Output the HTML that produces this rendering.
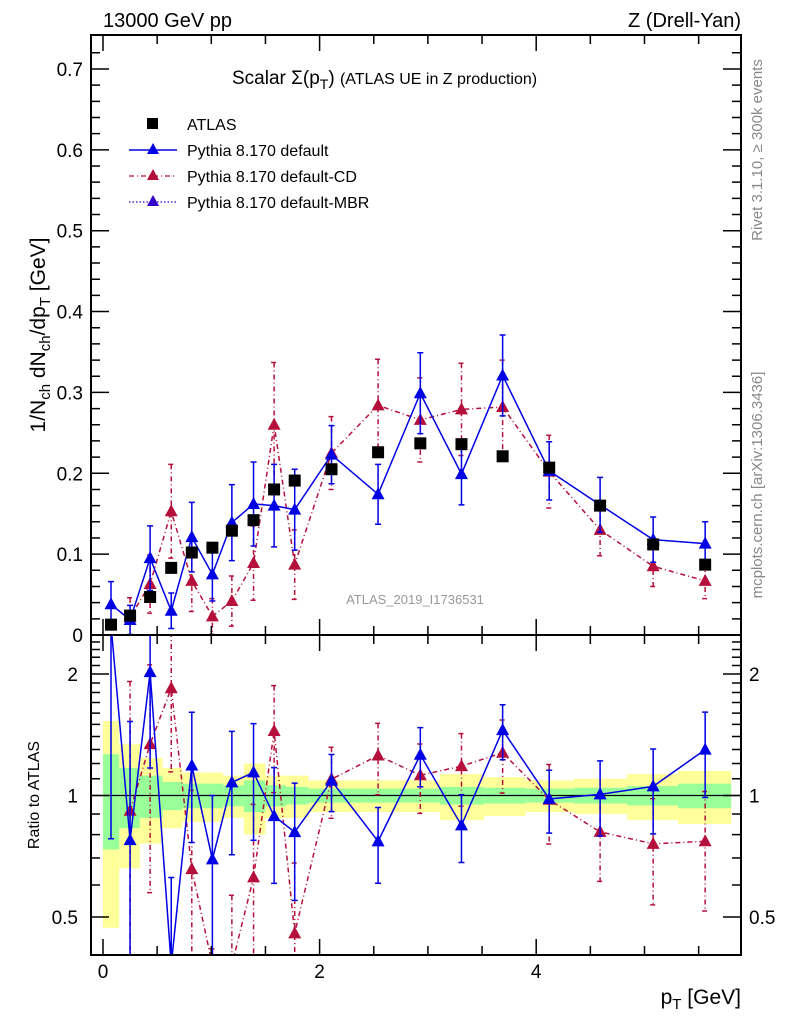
<!DOCTYPE html>
<html><head><meta charset="utf-8">
<style>
html,body{margin:0;padding:0;background:#fff;overflow:hidden;width:786px;height:1024px;}
svg{display:block;font-family:"Liberation Sans",sans-serif;overflow:hidden;}
</style></head>
<body>
<svg id="chart" width="786" height="1024" viewBox="0 0 786 1024" xmlns="http://www.w3.org/2000/svg">
  <text x="103" y="27" font-size="20">13000 GeV pp</text>
  <text x="741" y="27" font-size="20" text-anchor="end">Z (Drell-Yan)</text>
  <text transform="translate(762,150) rotate(-90)" font-size="15" fill="#888" text-anchor="middle">Rivet 3.1.10, ≥ 300k events</text>
  <text transform="translate(762,485) rotate(-90)" font-size="15" fill="#888" text-anchor="middle">mcplots.cern.ch [arXiv:1306.3436]</text>
  <text transform="translate(45,335) rotate(-90)" font-size="21" text-anchor="middle">1/N<tspan font-size="15" dy="5">ch</tspan><tspan dy="-5"> dN</tspan><tspan font-size="15" dy="5">ch</tspan><tspan dy="-5">/dp</tspan><tspan font-size="15" dy="5">T</tspan><tspan dy="-5"> [GeV]</tspan></text>
  <text transform="translate(39,795) rotate(-90)" font-size="16" text-anchor="middle">Ratio to ATLAS</text>
  <text x="741" y="1004" font-size="21" text-anchor="end">p<tspan font-size="15" dy="5">T</tspan><tspan dy="-5"> [GeV]</tspan></text>
  <text x="232" y="84" font-size="19">Scalar Σ(p<tspan font-size="14" dy="5">T</tspan><tspan dy="-5">) </tspan><tspan font-size="16">(ATLAS UE in Z production)</tspan></text>
  <text x="415" y="604" font-size="13" fill="#999" text-anchor="middle">ATLAS_2019_I1736531</text>
  <g id="bands"></g>
  <g id="marks"></g>
  <g id="axes"></g>
  <g id="legend">
    <rect x="147" y="118" width="11" height="11" fill="#000"/>
    <text x="187" y="130" font-size="16">ATLAS</text>
    <line x1="129" y1="150" x2="177" y2="150" stroke="#0000e6" stroke-width="1.5"/>
    <path d="M153,143 L159,154 L147,154 Z" fill="#0000e6"/>
    <text x="187" y="156" font-size="16">Pythia 8.170 default</text>
    <line x1="129" y1="176" x2="177" y2="176" stroke="#b5103c" stroke-width="1.3" stroke-dasharray="5,3,1,3"/>
    <path d="M153,169 L159,180 L147,180 Z" fill="#b5103c"/>
    <text x="187" y="182" font-size="16">Pythia 8.170 default-CD</text>
    <line x1="129" y1="202" x2="177" y2="202" stroke="#3300cc" stroke-width="1.3" stroke-dasharray="1.5,2"/>
    <path d="M153,195 L159,206 L147,206 Z" fill="#3300cc"/>
    <text x="187" y="208" font-size="16">Pythia 8.170 default-MBR</text>
  </g>
</svg>
<script>
const xVals = [0.074,0.25,0.435,0.63,0.82,1.01,1.19,1.39,1.58,1.77,2.11,2.54,2.93,3.31,3.69,4.12,4.59,5.08,5.56];
const binEdges = [0,0.15,0.34,0.55,0.73,0.92,1.11,1.3,1.5,1.69,1.9,2.33,2.72,3.11,3.52,3.9,4.35,4.84,5.31,5.8];
const atlasVals = [0.0128,0.024,0.047,0.083,0.102,0.108,0.129,0.142,0.180,0.191,0.205,0.226,0.237,0.236,0.221,0.207,0.160,0.112,0.087];
const atlasTotErr = [0.53,0.34,0.24,0.17,0.14,0.14,0.12,0.20,0.12,0.12,0.09,0.09,0.09,0.13,0.11,0.09,0.10,0.13,0.15];
const atlasStatErr = [0.265,0.17,0.12,0.08,0.07,0.07,0.06,0.09,0.06,0.05,0.04,0.04,0.04,0.05,0.045,0.04,0.045,0.055,0.07];
const defVals = [0.038,0.0186,0.095,0.030,0.121,0.075,0.139,0.162,0.160,0.155,0.223,0.174,0.299,0.199,0.321,0.203,0.161,0.118,0.113];
const defErr = [0.028,0.018,0.040,0.022,0.043,0.033,0.047,0.052,0.051,0.050,0.036,0.037,0.050,0.038,0.050,0.036,0.034,0.028,0.027];
const cdVals = [null,0.022,0.063,0.153,0.067,0.023,0.042,0.089,0.260,0.087,0.225,0.284,0.266,0.279,0.282,0.202,0.130,0.085,0.067];
const cdErr = [null,0.024,0.036,0.058,0.038,0.022,0.031,0.046,0.077,0.043,0.045,0.057,0.052,0.057,0.058,0.045,0.032,0.025,0.022];
const mainTicks = [0,0.1,0.2,0.3,0.4,0.5,0.6,0.7];
const mainTickLabels = ["0","0.1","0.2","0.3","0.4","0.5","0.6","0.7"];
const ratioTicks = [0.5,1,2];
const ratioTickLabels = ["0.5","1","2"];
const xTicks = [0,2,4];
const xTickLabels = ["0","2","4"];

const NS="http://www.w3.org/2000/svg";
const L=91,R=741,MT=35,MB=635,RT=635,RB=955;
const clamp=(v,a,b)=>Math.max(a,Math.min(b,v));
const X=v=>103+v*108.3;
const Y=v=>clamp(635-v*808.6,MT-10,MB+10);
const YR=r=>clamp(795.5-121.5*Math.log2(r),RT-10,RB+10);
const BLUE="#0000e6",RED="#b5103c";
function mk(tag,parent,attrs){const e=document.createElementNS(NS,tag);for(const k in attrs)e.setAttribute(k,attrs[k]);parent.appendChild(e);return e;}
const bands=document.getElementById('bands'),marks=document.getElementById('marks'),axes=document.getElementById('axes');
const svg=document.getElementById('chart');
const defs=mk('defs',svg,{});
const c1=mk('clipPath',defs,{id:'cm'});mk('rect',c1,{x:L,y:MT,width:R-L,height:MB-MT});
const c2=mk('clipPath',defs,{id:'cr'});mk('rect',c2,{x:L,y:RT,width:R-L,height:RB-RT});
const gMain=mk('g',marks,{'clip-path':'url(#cm)'});


const gRat=mk('g',bands,{'clip-path':'url(#cr)'});



for(let i=0;i<xVals.length;i++){
  const x0=X(binEdges[i]),x1=X(binEdges[i+1]);
  const y=mk('rect',gRat,{x:x0,y:YR(1+atlasTotErr[i]),width:x1-x0,height:YR(1-atlasTotErr[i])-YR(1+atlasTotErr[i]),fill:'#ffff99'});
  
  
}
for(let i=0;i<xVals.length;i++){
  const x0=X(binEdges[i]),x1=X(binEdges[i+1]);
  const g=mk('rect',gRat,{x:x0,y:YR(1+atlasStatErr[i]),width:x1-x0,height:YR(1-atlasStatErr[i])-YR(1+atlasStatErr[i]),fill:'#99ff99'});
  
  
}
const one=mk('line',gRat,{x1:L,x2:R,y1:YR(1),y2:YR(1),stroke:'#000','stroke-width':1.3});



function tri(g,x,y,col){return mk('path',g,{d:`M${x},${y-7} L${x+6.5},${y+5} L${x-6.5},${y+5} Z`,fill:col});}
function series(g,vals,errs,col,dash,yf,name){
  let pts=[];
  for(let i=0;i<vals.length;i++){ if(vals[i]==null)continue; pts.push([X(xVals[i]),yf(vals[i],i)]); }
  const pl=mk('polyline',g,{points:pts.map(p=>p.join(',')).join(' '),fill:'none',stroke:col,'stroke-width':1.5});
  if(dash)pl.setAttribute('stroke-dasharray',dash);
  
  
  for(let i=0;i<vals.length;i++){
    if(vals[i]==null)continue;
    const x=X(xVals[i]);
    const lo=Math.max(vals[i]-errs[i],1e-4),hi=vals[i]+errs[i];
    const y1=yf(hi,i),y2=yf(lo,i);
    const eb=mk('path',g,{d:`M${x},${y1} L${x},${y2} M${x-3},${y1} L${x+3},${y1} M${x-3},${y2} L${x+3},${y2}`,stroke:col,'stroke-width':1.5,fill:'none'});
    if(dash)eb.setAttribute('stroke-dasharray',dash);
    
    
    const t=tri(g,x,yf(vals[i],i),col);
    
    
  }
}
const ym=(v)=>Y(v);
const yr=(v,i)=>YR(v/atlasVals[i]);
series(gMain,cdVals,cdErr,RED,'5,3,1,3',ym,'cd');
series(gMain,defVals,defErr,BLUE,null,ym,'default');
for(let i=0;i<atlasVals.length;i++){
  const s=mk('rect',gMain,{x:X(xVals[i])-6,y:Y(atlasVals[i])-6,width:12,height:12,fill:'#000'});
  
  
}
series(gRat,cdVals,cdErr,RED,'5,3,1,3',yr,'ratio-cd');
series(gRat,defVals,defErr,BLUE,null,yr,'ratio-default');

const f1=mk('rect',axes,{x:L,y:MT,width:R-L,height:MB-MT,fill:'none',stroke:'#000','stroke-width':2});


const f2=mk('rect',axes,{x:L,y:RT,width:R-L,height:RB-RT,fill:'none',stroke:'#000','stroke-width':2});


let tp='';
for(let v=0;v<=0.74;v+=0.02){const y=Y(v);const maj=Math.abs(v*10-Math.round(v*10))<1e-6;const l=maj?18:9;tp+=`M${L},${y}h${l}M${R},${y}h${-l}`;}
for(let v=0;v<=5.9;v+=0.5){const x=X(v);const maj=Math.abs(v/2-Math.round(v/2))<1e-6;const l=maj?16:9;
  tp+=`M${x},${MB}v${-l}M${x},${MT}v${l}M${x},${RB}v${-l}M${x},${RT}v${l}`;}
[0.4,0.5,0.6,0.7,0.8,0.9,1,1.1,1.2,1.3,1.4,1.5,1.6,1.7,1.8,1.9,2,2.1,2.2,2.3,2.4].forEach(r=>{const y=YR(r);if(y<RT||y>RB)return;const maj=(r===0.5||r===1||r===2);const l=maj?18:9;tp+=`M${L},${y}h${l}M${R},${y}h${-l}`;});
const tk=mk('path',axes,{d:tp,stroke:'#000','stroke-width':1.5,fill:'none'});


mainTicks.forEach((v,i)=>{const t=mk('text',axes,{x:83,y:Y(v)+7,'font-size':19,'text-anchor':'end'});t.textContent=mainTickLabels[i];
  
  });
ratioTicks.forEach((v,i)=>{
  const t=mk('text',axes,{x:78,y:YR(v)+7,'font-size':19,'text-anchor':'end'});t.textContent=ratioTickLabels[i];
  
  
  const t2=mk('text',axes,{x:749,y:YR(v)+7,'font-size':19});t2.textContent=ratioTickLabels[i];
  
  });
xTicks.forEach((v,i)=>{const t=mk('text',axes,{x:X(v),y:978,'font-size':19,'text-anchor':'middle'});t.textContent=xTickLabels[i];
  
  });
</script>
</body></html>
